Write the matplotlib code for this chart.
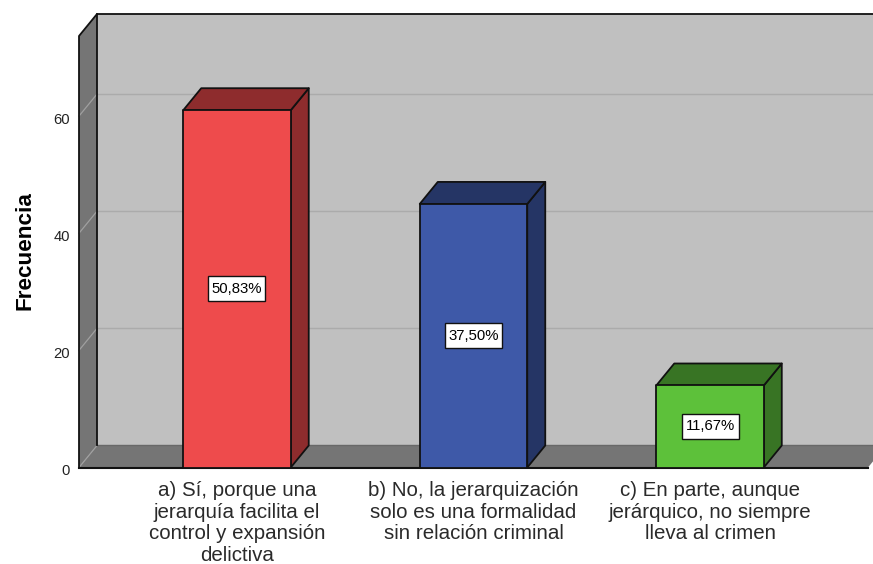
import numpy as np
import matplotlib
matplotlib.use("Agg")
import matplotlib.pyplot as plt
from matplotlib.patches import Polygon, Rectangle
from matplotlib.transforms import ScaledTranslation

plt.rcParams['font.family'] = ['Liberation Sans', 'DejaVu Sans']

# Data
categories = ["a) Sí, porque una\njerarquía facilita el\ncontrol y expansión\ndelictiva",
              "b) No, la jerarquización\nsolo es una formalidad\nsin relación criminal",
              "c) En parte, aunque\njerárquico, no siempre\nlleva al crimen"]
frequencies = [61, 45, 14]
percent_labels = ["50,83%", "37,50%", "11,67%"]
y_ticks = [0, 20, 40, 60]
front_colors = ["#EE4B4C", "#3E59A8", "#5DC13A"]
dark_colors = ["#8E2C2D", "#253565", "#387424"]

W, H = 873, 564
fig = plt.figure(figsize=(W/100, H/100), dpi=100, facecolor="white")
ax = fig.add_axes([79/W, (H-467.5)/H, 789/W, 431.5/H])
ax.set_xlim(-0.668, 2.668)
ax.set_ylim(0, 73.67)
for s in ax.spines.values():
    s.set_visible(False)
ax.patch.set_visible(False)

#3D offset in data units
dx = 18/236.5
dy = 22/5.857
x0, x1 = ax.get_xlim()
ytop = ax.get_ylim()[1]
bar_w = 107.5/236.5
edge = "#111111"


def poly(pts, color, z, lw=1.3, ec=edge):
    ax.add_patch(Polygon(pts, closed=True, facecolor=color, edgecolor=ec, linewidth=lw,
                         zorder=z, clip_on=False, joinstyle="round"))


#Walls and floor
poly([(x0+dx, dy), (x1+dx, dy), (x1+dx, ytop+dy), (x0+dx, ytop+dy)], "#C0C0C0", 1, ec="none")
poly([(x0, 0), (x0+dx, dy), (x0+dx, ytop+dy), (x0, ytop)], "#757575", 2, ec="none")
poly([(x0, 0), (x1, 0), (x1+dx, dy), (x0+dx, dy)], "#757575", 2, ec="none")
ax.plot([x0+dx, x1+dx], [dy, dy], color="#686868", lw=1.0, zorder=3, clip_on=False)
ax.plot([x0, x1], [0, 0], color=edge, lw=1.5, zorder=3, clip_on=False)
ax.plot([x0, x0, x0+dx, x1+dx], [0, ytop, ytop+dy, ytop+dy], color=edge, lw=1.3, zorder=3, clip_on=False)
ax.plot([x0+dx, x0+dx], [dy, ytop+dy], color=edge, lw=1.3, zorder=3, clip_on=False)

#Grid lines on back and side wall
for t in y_ticks:
    if t > 0:
        ax.plot([x0+dx, x1+dx], [t+dy, t+dy], color="#ABABAB", lw=1.0, zorder=1.5, clip_on=False)
    ax.plot([x0, x0+dx], [t, t+dy], color="#A0A0A0", lw=0.9, zorder=2.5, clip_on=False)

#Bars
box_w = 57/236.5
box_h = 25/5.857
for i, (v, fc, dc) in enumerate(zip(frequencies, front_colors, dark_colors)):
    l, r = i-bar_w/2, i+bar_w/2
    poly([(r, 0), (r+dx, dy), (r+dx, v+dy), (r, v)], dc, 5)
    poly([(l, v), (r, v), (r+dx, v+dy), (l+dx, v+dy)], dc, 5)
    poly([(l, 0), (r, 0), (r, v), (l, v)], fc, 6)
    ax.add_patch(Rectangle((i-box_w/2, v/2-box_h/2), box_w, box_h, facecolor="white",
                           edgecolor="#111111", linewidth=1.0, zorder=7))
    ax.text(i, v/2, percent_labels[i], ha="center", va="center", fontsize=10.7, color="black", zorder=8)

ax.set_xticks(range(len(categories)))
ax.set_xticklabels(categories, fontsize=14.8, color="#2a2a2a", linespacing=1.17)
ax.set_yticks(y_ticks)
ax.tick_params(axis="y", length=0, pad=6.5, labelsize=10.6, labelcolor="#222222")
ax.tick_params(axis="x", length=0, pad=10)
shift = ScaledTranslation(0, -2/100, fig.dpi_scale_trans)
for lab in ax.get_yticklabels():
    lab.set_transform(lab.get_transform() + shift)

fig.text(25/W, 1-251/H, "Frecuencia", rotation=90, ha="center", va="center",
         fontsize=16.2, fontweight="bold", color="black")

fig.savefig("out.png", dpi=100)
